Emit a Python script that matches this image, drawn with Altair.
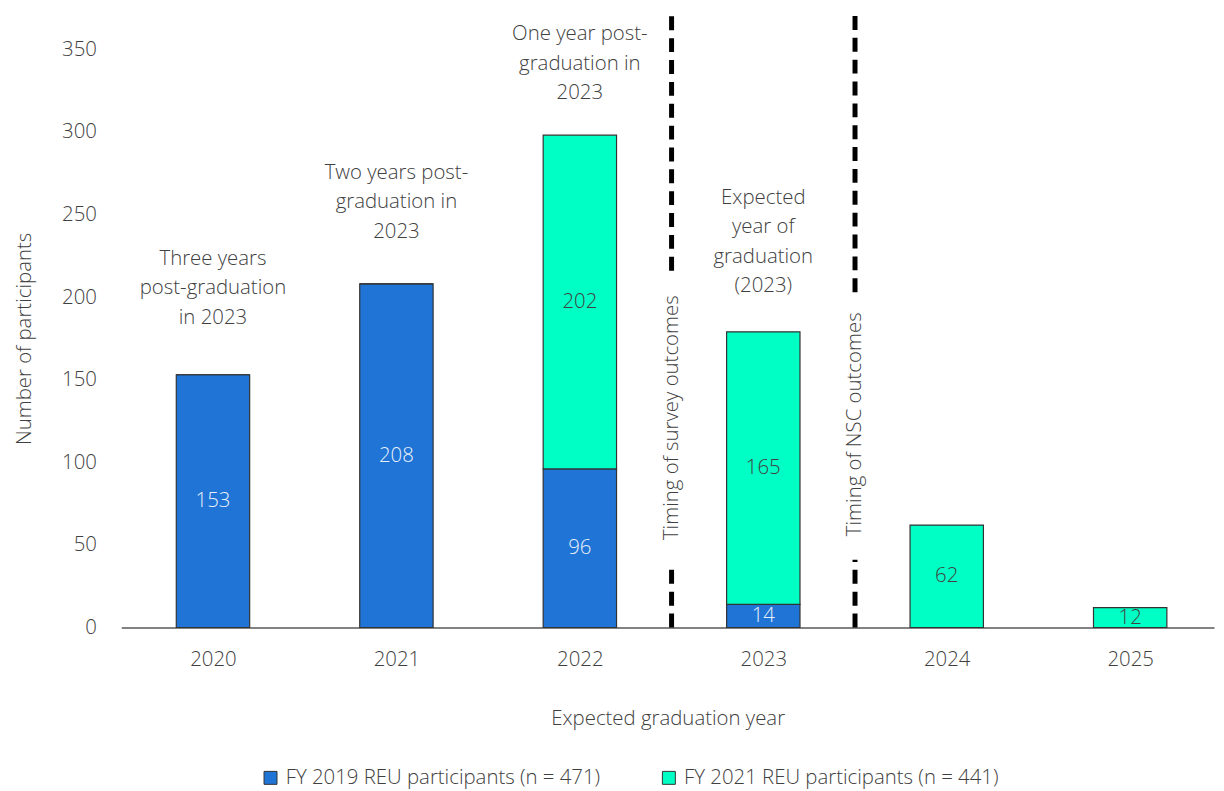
import altair as alt
import pandas as pd

years = [2020, 2021, 2022, 2023, 2024, 2025]
fy2019 = [153, 208, 96, 14, 0, 0]
fy2021 = [0, 0, 202, 165, 62, 12]
series_names = ["FY 2019 REU participants (n = 471)", "FY 2021 REU participants (n = 441)"]
series_colors = ["#1F74D6", "#00FFC5"]
label_colors = ["#E8F0FA", "#404040"]

ann_years = [2020, 2021, 2022, 2023]
ann_lines = [
    ["Three years", "post-graduation", "in 2023"],
    ["Two years post-", "graduation in", "2023"],
    ["One year post-", "graduation in", "2023"],
    ["Expected", "year of", "graduation", "(2023)"],
]
ann_y = [223, 275, 359, 260]

div_x = [2022.5, 2023.5]
div_text = ["Timing of survey outcomes", "Timing of NSC outcomes"]
div_text_y = [127, 123]
div_top = [371, 372]
div_gap_top = [216, 203]
div_gap_bottom = [38, 41]

FONT = "Open Sans"
FW = 300
FS = 20.5
TXT = "#404040"

rows = []
for i, y in enumerate(years):
    rows.append({"year": y, "series": series_names[0], "value": fy2019[i], "order": 0})
    rows.append({"year": y, "series": series_names[1], "value": fy2021[i], "order": 1})
bars_df = pd.DataFrame(rows)

ann_df = pd.DataFrame({"year": ann_years, "lines": ann_lines, "y": ann_y})

seg_rows = []
for i, x in enumerate(div_x):
    seg_rows.append({"x": x, "y": div_gap_top[i], "y2": div_top[i]})
    seg_rows.append({"x": x, "y": 0, "y2": div_gap_bottom[i]})
seg_df = pd.DataFrame(seg_rows)
div_df = pd.DataFrame({"x": div_x, "text": div_text, "y": div_text_y})

xscale = alt.Scale(domain=[2019.5, 2025.457], nice=False, zero=False)
yscale = alt.Scale(domain=[0, 350], nice=False)

base = alt.Chart(bars_df).transform_stack(
    stack="value", groupby=["year"], as_=["v0", "v1"], sort=[alt.SortField("order")]
).transform_calculate(
    xa="datum.year - 0.2", xb="datum.year + 0.2", mid="(datum.v0 + datum.v1) / 2"
)

bars = base.mark_bar(stroke="#333333", strokeWidth=1.2).encode(
    x=alt.X("xa:Q", scale=xscale, title="Expected graduation year",
            axis=alt.Axis(values=years, format="d", grid=False, ticks=False,
                          domainColor="#595959", domainWidth=1.5,
                          labelFontSize=FS, labelColor=TXT, labelFont=FONT,
                          labelFontWeight=FW,
                          labelPadding=22, titleFontSize=FS, titleColor=TXT,
                          titleFont=FONT, titleFontWeight=FW, titlePadding=39)),
    x2="xb:Q",
    y=alt.Y("v0:Q", scale=yscale, title="Number of participants",
            axis=alt.Axis(values=[0, 50, 100, 150, 200, 250, 300, 350], grid=False,
                          ticks=False, domain=False, labelFontSize=FS, labelColor=TXT,
                          labelFont=FONT, labelFontWeight=FW, labelPadding=25,
                          titleFontSize=FS, titleColor=TXT, titleFont=FONT,
                          titleFontWeight=FW, titlePadding=27)),
    y2="v1:Q",
    color=alt.Color("series:N", scale=alt.Scale(domain=series_names, range=series_colors),
                    legend=alt.Legend(title=None, orient="none", legendX=140, legendY=723,
                                      direction="horizontal", symbolType="square",
                                      symbolSize=170, symbolStrokeColor="#333333",
                                      symbolStrokeWidth=1, labelFontSize=FS,
                                      labelColor=TXT, labelFont=FONT, labelFontWeight=FW,
                                      labelLimit=500, columnPadding=58, labelOffset=5)),
)

bar_labels = base.transform_filter("datum.value > 0").mark_text(
    fontSize=FS, font=FONT, fontWeight=FW, baseline="middle", align="center"
).encode(
    x=alt.X("year:Q", scale=xscale),
    y=alt.Y("mid:Q", scale=yscale),
    text="value:Q",
    color=alt.condition(alt.datum.series == series_names[0],
                        alt.value(label_colors[0]), alt.value(label_colors[1])),
)

ann = alt.Chart(ann_df).mark_text(
    fontSize=FS, font=FONT, fontWeight=FW, color=TXT, align="center",
    baseline="middle", lineHeight=29.5
).encode(
    x=alt.X("year:Q", scale=xscale),
    y=alt.Y("y:Q", scale=yscale),
    text="lines",
)

segs = alt.Chart(seg_df).mark_rule(
    color="#000000", strokeWidth=5, strokeDash=[14, 8]
).encode(
    x=alt.X("x:Q", scale=xscale),
    y=alt.Y("y:Q", scale=yscale),
    y2="y2:Q",
)

div_labels = alt.Chart(div_df).mark_text(
    fontSize=FS, font=FONT, fontWeight=FW, color=TXT, angle=270,
    align="center", baseline="middle"
).encode(
    x=alt.X("x:Q", scale=xscale),
    y=alt.Y("y:Q", scale=yscale),
    text="text:N",
)

chart = alt.layer(bars, bar_labels, ann, segs, div_labels).properties(
    width=1100, height=582,
    autosize=alt.AutoSizeParams(type="none"),
    padding={"left": 114, "top": 39, "right": 2, "bottom": 161},
).configure(background="white", view=alt.ViewConfig(stroke=None))

chart.save("out.html", embed_options={"renderer": "svg", "actions": False})
